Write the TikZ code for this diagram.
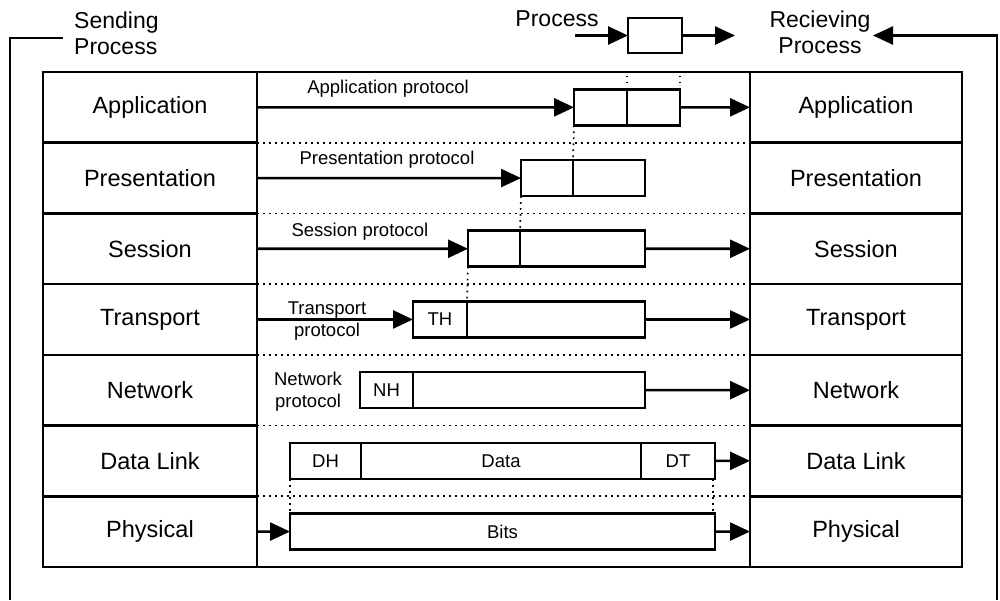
\documentclass[tikz,border=0pt]{standalone}
\usepackage{fontspec}
\setmainfont{Liberation Sans}
\usetikzlibrary{arrows.meta}

\begin{document}
\begin{tikzpicture}[x=1pt,y=-1pt,
  layer/.style={draw,line width=2.6pt,minimum width=214pt,minimum height=70.7pt,
    inner sep=0pt,outer sep=0pt,font=\fontsize{23.5}{26}\selectfont},
  cell/.style={draw,line width=2.6pt,minimum height=36pt,inner sep=0pt,outer sep=0pt,
    anchor=west,font=\fontsize{18.5}{20}\selectfont},
  arr/.style={line width=2.6pt,line join=miter,-{Triangle[length=20pt,width=18pt]}},
  frame/.style={line width=2.6pt,line join=miter},
  guide/.style={line width=1.7pt,dash pattern=on 1.7pt off 4.3pt},
  lbl/.style={font=\fontsize{18.5}{22}\selectfont,inner sep=0pt,align=center},
  toplbl/.style={font=\fontsize{23}{26}\selectfont,inner sep=0pt,align=center},
]
\useasboundingbox (0,0) rectangle (1000,600);

% layer stacks on both sides
\foreach \nm/\txt [count=\i] in {App/Application,Pres/Presentation,Ses/Session,
    Tr/Transport,Net/Network,Dl/Data Link,Phy/Physical}{
  \node[layer] (s\nm) at (150,{72+70.7*(\i-0.5)}) {\txt};
  \node[layer,minimum width=212pt] (r\nm) at (856,{72+70.7*(\i-0.5)}) {\txt};
}

% middle column: solid top/bottom, dotted layer boundaries
\draw[frame] (sApp.north east) -- (rApp.north west);
\draw[frame] (sPhy.south east) -- (rPhy.south west);
\foreach \nm in {App,Pres,Ses,Tr,Net,Dl}{
  \draw[guide] (s\nm.south east) -- (r\nm.south west);
}

% application layer
\node[cell,minimum width=53pt] (appA) at (574,107.35) {};
\node[cell,minimum width=53pt] (appB) at (appA.east) {};
% presentation layer
\node[cell,minimum width=52pt] (presA) at (521,178.05) {};
\node[cell,minimum width=72pt] (presB) at (presA.east) {};
% session layer
\node[cell,minimum width=52pt] (sesA) at (468,248.75) {};
\node[cell,minimum width=125pt] (sesB) at (sesA.east) {};
% transport layer
\node[cell,minimum width=54pt] (trA) at (413,319.45) {TH};
\node[cell,minimum width=178pt] (trB) at (trA.east) {};
% network layer
\node[cell,minimum width=53pt] (netA) at (360,390.15) {NH};
\node[cell,minimum width=232pt] (netB) at (netA.east) {};
% data link layer
\node[cell,minimum width=71pt] (dlA) at (290,460.85) {DH};
\node[cell,minimum width=280pt] (dlB) at (dlA.east) {Data};
\node[cell,minimum width=74pt] (dlC) at (dlB.east) {DT};
% physical layer
\node[cell,minimum width=425pt] (phy) at (290,531.55) {Bits};

% protocol labels
\node[lbl] (lApp) at (388,89) {Application protocol};
\node[lbl] (lPres) at (387,160) {Presentation protocol};
\node[lbl] (lSes) at (360,232) {Session protocol};
\node[lbl] (lTr) at (327,321) {Transport\\protocol};
\node[lbl] (lNet) at (308,392) {Network\\protocol};

% peer arrows
\draw[arr] (sApp.east) -- (appA.west);
\draw[arr] (appB.east) -- (rApp.west);
\draw[arr] (sPres.east) -- (presA.west);
\draw[arr] (sSes.east) -- (sesA.west);
\draw[arr] (sesB.east) -- (rSes.west);
\draw[arr] (sTr.east) -- (trA.west);
\draw[arr] (trB.east) -- (rTr.west);
\draw[arr] (netB.east) -- (rNet.west);
\draw[arr] (dlC.east) -- (rDl.west);
\draw[arr] (sPhy.east) -- (phy.west);
\draw[arr] (phy.east) -- (rPhy.west);

% dotted encapsulation guides
\draw[guide] (appA.north east) -- (appA.north east |- sApp.north);
\draw[guide] (appB.north east) -- (appB.north east |- sApp.north);
\draw[guide] (appA.south west) -- (presA.north east);
\draw[guide] (presA.south west) -- (sesA.north east);
\draw[guide] (sesA.south west) -- (trA.north east);
\draw[guide] (dlA.south west) -- (phy.north west);
\draw[guide] ([xshift=-2pt]dlC.south east) -- ([xshift=-2pt]phy.north east);

% process on top
\node[cell,anchor=center,minimum width=54pt,minimum height=35pt] (proc) at (655,35.5) {};
\node[toplbl] (procl) at (557,19) {Process};
\coordinate (pin) at (575,35.5);
\draw[arr] (pin) -- (proc.west);
\node[toplbl] (recv) at (820,32) {Recieving\\Process};
\coordinate (pout) at (735,35.5);
\draw[arr] (proc.east) -- (pout);

% receiving side return path
\coordinate (rb) at (997,600);
\coordinate (rc) at (997,35.5);
\coordinate (rtip) at (873,35.5);
\draw[arr] (rb) -- (rc) -- (rtip);

% sending side path
\node[toplbl,align=left,anchor=west] (send) at (74,33) {Sending\\Process};
\coordinate (lt) at (63,38);
\coordinate (lc) at (10,38);
\coordinate (lb) at (10,600);
\draw[frame] (lt) -- (lc) -- (lb);
\end{tikzpicture}
\end{document}
